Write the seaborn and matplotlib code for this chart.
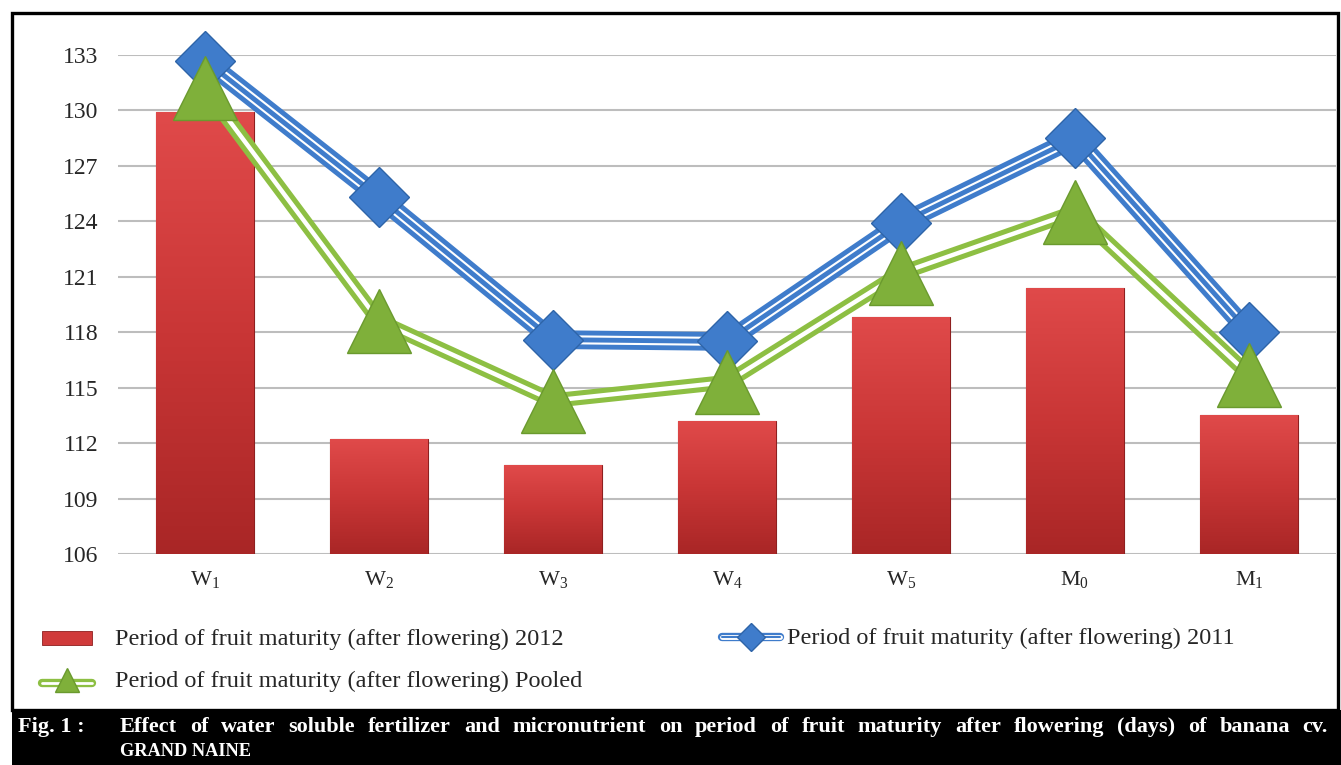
import matplotlib
matplotlib.use("Agg")
import matplotlib.pyplot as plt
import seaborn as sns
import pandas as pd
import numpy as np
from matplotlib.patches import Rectangle
from matplotlib.lines import Line2D
from matplotlib.colors import LinearSegmentedColormap

# ---------------- data ----------------
categories = ["W1", "W2", "W3", "W4", "W5", "M0", "M1"]
tick_labels = [r"$\mathrm{W}_{1}$", r"$\mathrm{W}_{2}$", r"$\mathrm{W}_{3}$", r"$\mathrm{W}_{4}$",
               r"$\mathrm{W}_{5}$", r"$\mathrm{M}_{0}$", r"$\mathrm{M}_{1}$"]
values_2012 = [129.9, 112.2, 110.8, 113.2, 118.8, 120.4, 113.5]
values_2011 = [132.7, 125.3, 117.6, 117.5, 123.9, 128.5, 118.0]
values_pooled = [131.2, 118.6, 114.3, 115.3, 121.2, 124.5, 115.7]
y_ticks = [106, 109, 112, 115, 118, 121, 124, 127, 130, 133]

label_2012 = "Period of fruit maturity (after flowering) 2012"
label_2011 = "Period of fruit maturity (after flowering) 2011"
label_pooled = "Period of fruit maturity (after flowering) Pooled"
caption_tag = "Fig. 1 :"
caption_line1 = ("Effect of water soluble fertilizer and micronutrient on period of fruit "
                 "maturity after flowering (days) of banana cv.")
caption_line2 = "GRAND NAINE"

# ---------------- style ----------------
sns.set_style("white")
plt.rcParams["font.family"] = ["Liberation Serif", "DejaVu Serif"]
plt.rcParams["mathtext.fontset"] = "custom"
plt.rcParams["mathtext.rm"] = "Liberation Serif"
plt.rcParams["mathtext.it"] = "Liberation Serif:italic"

RED = "#d03b3b"
RED_EDGE = "#8e1f1f"
BLUE = "#3f7ccb"
GREEN = "#8dbf43"
GREEN_MK = "#7fb03a"

W, H = 1341, 765
fig = plt.figure(figsize=(W / 100, H / 100), dpi=100)


def fx(px):
    return px / W


def fy(py):
    return 1 - py / H


ax = fig.add_axes([fx(118), fy(554), fx(1336) - fx(118), fy(55) - fy(554)])

df = pd.DataFrame({"cat": categories, "v2012": values_2012})
sns.barplot(data=df, x="cat", y="v2012", ax=ax, color=RED, width=0.56,
            edgecolor=RED_EDGE, linewidth=0.8, saturation=1, zorder=2)

# bars start at the axis floor, with a soft vertical gradient
cmap = LinearSegmentedColormap.from_list("bar", ["#a92626", "#c93636", "#e04a4a"])
grad = np.linspace(0, 1, 256).reshape(-1, 1)
for p in list(ax.patches):
    y0 = 106
    top = p.get_y() + p.get_height()
    p.set_y(y0)
    p.set_height(top - y0)
    xl = p.get_x()
    im = ax.imshow(grad, extent=[xl, xl + p.get_width(), y0, top], origin="lower",
                   cmap=cmap, aspect="auto", zorder=2.1)
    im.set_clip_path(p)

x = np.arange(len(categories))

# 2011 line: triple stripe blue
ax.plot(x, values_2011, color=BLUE, lw=13.5, zorder=3, clip_on=False)
ax.plot(x, values_2011, color="white", lw=6.5, zorder=3.1, clip_on=False)
ax.plot(x, values_2011, color=BLUE, lw=3.5, zorder=3.2, clip_on=False)

# pooled line: double stripe green
ax.plot(x, values_pooled, color=GREEN, lw=10.5, zorder=3.3, clip_on=False)
ax.plot(x, values_pooled, color="white", lw=3.2, zorder=3.4, clip_on=False)

# markers
ax.plot(x, values_2011, ls="none", marker="D", ms=31, mfc=BLUE, mec="#2e64a8",
        mew=1, zorder=4, clip_on=False)
ax.plot(x, values_pooled, ls="none", marker="^", ms=46, mfc=GREEN_MK, mec="#6a9a2e",
        mew=1, zorder=5, clip_on=False)

ax.set_ylim(106, 133)
ax.set_xlim(-0.5, len(categories) - 0.5)
ax.set_yticks(y_ticks)
ax.set_yticklabels([str(t) for t in y_ticks], fontsize=17)
ax.set_xticks(x)
ax.set_xticklabels(tick_labels, fontsize=16)
ax.tick_params(axis="y", length=0, pad=14)
ax.tick_params(axis="x", length=0, pad=11)
ax.set_xlabel("")
ax.set_ylabel("")
ax.grid(axis="y", color="#bdbdbd", lw=1.5, zorder=0)
ax.set_axisbelow(True)
for s in ax.spines.values():
    s.set_visible(False)

# ---------------- outer frame ----------------
fig.add_artist(Rectangle((fx(12), fy(710)), fx(1338) - fx(12), fy(13) - fy(710),
                         transform=fig.transFigure, fill=False, edgecolor="black", lw=2.4))

# ---------------- legend ----------------
LEG_FS = 17.5
fig.add_artist(Rectangle((fx(42), fy(645)), fx(92) - fx(42), fy(631) - fy(645),
                         transform=fig.transFigure, facecolor=RED, edgecolor=RED_EDGE, lw=0.6))
fig.text(fx(115), fy(639), label_2012, fontsize=LEG_FS, va="center", ha="left")

ly = fy(637)
for c, lw in [(BLUE, 6), ("white", 3.5), (BLUE, 1.5)]:
    fig.add_artist(Line2D([fx(722), fx(780)], [ly, ly], color=c, lw=lw,
                          transform=fig.transFigure))
fig.add_artist(Line2D([fx(751)], [ly], marker="D", ms=14, mfc=BLUE, mec="#2e64a8",
                      ls="none", transform=fig.transFigure))
fig.text(fx(787), fy(638), label_2011, fontsize=LEG_FS, va="center", ha="left")

gy = fy(683)
for c, lw in [(GREEN, 6), ("white", 2)]:
    fig.add_artist(Line2D([fx(42), fx(92)], [gy, gy], color=c, lw=lw,
                          transform=fig.transFigure))
fig.add_artist(Line2D([fx(67)], [fy(680)], marker="^", ms=17, mfc=GREEN_MK, mec="#6a9a2e",
                      ls="none", transform=fig.transFigure))
fig.text(fx(115), fy(681), label_pooled, fontsize=LEG_FS, va="center", ha="left")

# ---------------- caption band ----------------
fig.add_artist(Rectangle((fx(12), 0), fx(1341) - fx(12), fy(710),
                         transform=fig.transFigure, facecolor="black", edgecolor="none"))
cap_kw = dict(color="white", fontweight="bold", fontsize=16, va="center", ha="left")
fig.text(fx(18), fy(727), caption_tag, **cap_kw)

# justify first caption line between x=120 and x=1328
fig.canvas.draw()
renderer = fig.canvas.get_renderer()
words = caption_line1.split()
widths = []
for w_ in words:
    t = fig.text(0, 0, w_, **cap_kw)
    widths.append(t.get_window_extent(renderer).width)
    t.remove()
left_px, right_px = 120, 1328
gap = (right_px - left_px - sum(widths)) / (len(words) - 1)
cur = left_px
for w_, wd in zip(words, widths):
    fig.text(fx(cur), fy(727), w_, **cap_kw)
    cur += wd + gap

fig.text(fx(120), fy(752), caption_line2, color="white", fontweight="bold",
         fontsize=13.2, va="center", ha="left")

fig.savefig("out.png", dpi=100)
